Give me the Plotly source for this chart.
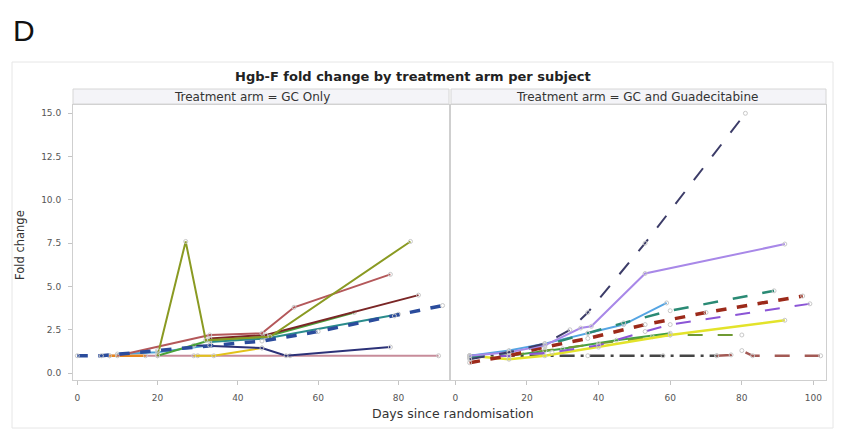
import plotly.graph_objects as go

# ---------------- data: GC Only arm ----------------
gc_s01_days = [0, 6, 20, 33, 46, 60, 79, 91]
gc_s01_fold = [1.0, 1.0, 1.3, 1.6, 1.85, 2.4, 3.3, 3.9]
gc_s02_days = [20, 27, 32, 48, 83]
gc_s02_fold = [1.0, 7.6, 1.9, 2.1, 7.6]
gc_s03_days = [10, 33, 46, 54, 78]
gc_s03_fold = [1.0, 2.2, 2.3, 3.8, 5.7]
gc_s04_days = [33, 47, 85]
gc_s04_fold = [2.0, 2.2, 4.5]
gc_s05_days = [20, 33, 47, 69]
gc_s05_fold = [1.0, 1.9, 2.1, 3.5]
gc_s06_days = [33, 47, 80]
gc_s06_fold = [1.8, 2.0, 3.4]
gc_s07_days = [29, 46, 52, 78]
gc_s07_fold = [1.6, 1.45, 1.0, 1.5]
gc_s08_days = [8, 30, 53, 90]
gc_s08_fold = [1.0, 1.0, 1.0, 1.0]
gc_s09_days = [8, 17]
gc_s09_fold = [1.0, 1.0]
gc_s10_days = [29, 34, 46]
gc_s10_fold = [1.0, 1.0, 1.45]
gc_s11_days = [10, 20, 33]
gc_s11_fold = [1.1, 1.2, 1.6]

# ---------------- data: GC and Guadecitabine arm ----------------
gg_s01_days = [4, 15, 25, 32, 37, 53, 81]
gg_s01_fold = [0.8, 1.2, 1.7, 2.5, 3.5, 7.5, 15.0]
gg_s02_days = [4, 15, 25, 35, 38, 53, 92]
gg_s02_fold = [1.0, 1.2, 1.6, 2.6, 2.7, 5.75, 7.45]
gg_s03_days = [4, 15, 25, 37, 47, 60, 89]
gg_s03_fold = [0.9, 1.2, 1.6, 2.3, 2.9, 3.6, 4.75]
gg_s04_days = [4, 15, 25, 37, 47, 59]
gg_s04_fold = [1.0, 1.3, 1.7, 2.3, 2.8, 4.05]
gg_s05_days = [4, 15, 25, 37, 53, 70, 97]
gg_s05_fold = [0.6, 1.0, 1.5, 2.0, 2.8, 3.5, 4.45]
gg_s06_days = [4, 15, 27, 40, 53, 60, 99]
gg_s06_fold = [0.9, 1.0, 1.2, 1.6, 2.4, 2.8, 4.0]
gg_s07_days = [4, 15, 25, 40, 60, 92]
gg_s07_fold = [1.0, 0.8, 1.0, 1.5, 2.2, 3.05]
gg_s08_days = [15, 25, 40, 55, 60, 80]
gg_s08_fold = [1.0, 1.3, 1.7, 2.1, 2.2, 2.2]
gg_s09_days = [4, 37, 58, 73]
gg_s09_fold = [1.0, 1.0, 1.0, 1.0]
gg_s10_days = [73, 77, 80, 83, 102]
gg_s10_fold = [1.0, 1.05, 1.3, 1.0, 1.0]
gg_s11_days = [15, 30, 45, 60]
gg_s11_fold = [1.0, 1.4, 1.9, 2.3]

# tick labels
y_ticks = [0.0, 2.5, 5.0, 7.5, 10.0, 12.5, 15.0]
x_ticks_left = [0, 20, 40, 60, 80]
x_ticks_right = [0, 20, 40, 60, 80, 100]

# page has an 8px body margin; the figure is sized to sit inside the window
OFF = 8
W, H = 836, 425

gc_series = [
    (gc_s08_days, gc_s08_fold, "#c78c9a", "solid", 2),
    (gc_s09_days, gc_s09_fold, "#e8861e", "solid", 2.5),
    (gc_s10_days, gc_s10_fold, "#e2c21a", "solid", 2),
    (gc_s11_days, gc_s11_fold, "#4fa3d6", "solid", 2),
    (gc_s07_days, gc_s07_fold, "#2c3278", "solid", 2),
    (gc_s06_days, gc_s06_fold, "#2a8c8c", "solid", 2),
    (gc_s05_days, gc_s05_fold, "#4aa23a", "solid", 2),
    (gc_s04_days, gc_s04_fold, "#7a2626", "solid", 2),
    (gc_s03_days, gc_s03_fold, "#b4585a", "solid", 2),
    (gc_s02_days, gc_s02_fold, "#8a9a22", "solid", 2),
    (gc_s01_days, gc_s01_fold, "#2b4c9c", "dash", 3.5),
]
gg_series = [
    (gg_s09_days, gg_s09_fold, "#454545", "longdashdot", 2.5),
    (gg_s10_days, gg_s10_fold, "#a35a55", "longdash", 2.5),
    (gg_s11_days, gg_s11_fold, "#44a044", "solid", 2),
    (gg_s08_days, gg_s08_fold, "#6f9a33", "longdash", 2),
    (gg_s07_days, gg_s07_fold, "#e3e32a", "solid", 2.5),
    (gg_s06_days, gg_s06_fold, "#8b55d6", "longdash", 2),
    (gg_s04_days, gg_s04_fold, "#55a5e3", "solid", 2),
    (gg_s03_days, gg_s03_fold, "#2a8a74", "longdash", 2.5),
    (gg_s05_days, gg_s05_fold, "#9c2a1a", "dash", 3.5),
    (gg_s02_days, gg_s02_fold, "#a888e8", "solid", 2),
    (gg_s01_days, gg_s01_fold, "#3c3c68", "longdash", 2),
]

fig = go.Figure()
for days, fold, color, dash, width in gc_series:
    fig.add_trace(go.Scatter(
        x=days, y=fold, mode="lines+markers", xaxis="x", yaxis="y",
        line=dict(color=color, dash=dash, width=width),
        marker=dict(symbol="circle-open", size=4, color="#c8c8c8"),
        showlegend=False, hoverinfo="x+y"))
for days, fold, color, dash, width in gg_series:
    fig.add_trace(go.Scatter(
        x=days, y=fold, mode="lines+markers", xaxis="x2", yaxis="y2",
        line=dict(color=color, dash=dash, width=width),
        marker=dict(symbol="circle-open", size=4, color="#c8c8c8"),
        showlegend=False, hoverinfo="x+y"))

def px(x):
    return (x - OFF) / W

def py(y):
    return 1 - (y - OFF) / H

font_family = "DejaVu Sans, Liberation Sans, Arial, sans-serif"
tickfont = dict(family=font_family, size=9, color="#555555")
axis_common = dict(showline=True, linecolor="#cfcfcf", linewidth=1, mirror=True,
                   ticks="outside", ticklen=4, tickcolor="#c4c4c4",
                   ticklabelstandoff=5,
                   showgrid=False, zeroline=False, tickfont=tickfont)

ydom = [py(380), py(105)]
fig.update_layout(
    width=W, height=H,
    margin=dict(l=0, r=0, t=0, b=0),
    paper_bgcolor="white", plot_bgcolor="white",
    xaxis=dict(domain=[px(73), px(449)], range=[-1.07, 92.6],
               tickvals=x_ticks_left, anchor="y", **axis_common),
    xaxis2=dict(domain=[px(451), px(826)], range=[-1.2, 103.5],
                tickvals=x_ticks_right, anchor="y2", **axis_common),
    yaxis=dict(domain=ydom, range=[-0.4, 15.48], tickvals=y_ticks,
               tickformat=".1f", anchor="x", **axis_common),
    yaxis2=dict(domain=ydom, range=[-0.4, 15.48], tickvals=y_ticks,
                showticklabels=False, ticks="", anchor="x2", matches="y",
                showline=True, linecolor="#cfcfcf", mirror=True,
                showgrid=False, zeroline=False),
    font=dict(family=font_family),
)

shapes = [
    dict(type="rect", xref="paper", yref="paper", x0=px(12), x1=px(833),
         y0=py(428), y1=py(62), line=dict(color="#e6e6e6", width=1),
         fillcolor="rgba(0,0,0,0)", layer="below"),
    dict(type="rect", xref="paper", yref="paper", x0=px(73), x1=px(449),
         y0=py(104), y1=py(89), line=dict(color="#d6d6d6", width=1),
         fillcolor="#f4f4f8"),
    dict(type="rect", xref="paper", yref="paper", x0=px(451), x1=px(826),
         y0=py(104), y1=py(89), line=dict(color="#d6d6d6", width=1),
         fillcolor="#f4f4f8"),
]
fig.update_layout(shapes=shapes)

annotations = [
    dict(text="D", x=px(11), y=py(31), xref="paper", yref="paper",
         xanchor="left", yanchor="middle", showarrow=False,
         font=dict(family="Liberation Sans, Arial, sans-serif", size=30, color="#111111")),
    dict(text="<b>Hgb-F fold change by treatment arm per subject</b>",
         x=px(413), y=py(76), xref="paper", yref="paper",
         xanchor="center", yanchor="middle", showarrow=False,
         font=dict(family=font_family, size=13, color="#222222")),
    dict(text="Treatment arm = GC Only", x=px(252), y=py(96.5), xref="paper", yref="paper",
         xanchor="center", yanchor="middle", showarrow=False,
         font=dict(family=font_family, size=12, color="#333333")),
    dict(text="Treatment arm = GC and Guadecitabine", x=px(637), y=py(96.5),
         xref="paper", yref="paper", xanchor="center", yanchor="middle",
         showarrow=False, font=dict(family=font_family, size=12, color="#333333")),
    dict(text="Fold change", x=px(20), y=py(245), xref="paper", yref="paper",
         xanchor="center", yanchor="middle", textangle=-90, showarrow=False,
         font=dict(family=font_family, size=11.5, color="#333333")),
    dict(text="Days since randomisation", x=px(453), y=py(413), xref="paper", yref="paper",
         xanchor="center", yanchor="middle", showarrow=False,
         font=dict(family=font_family, size=12.5, color="#333333")),
]
fig.update_layout(annotations=annotations)

fig.write_html("out.html")
